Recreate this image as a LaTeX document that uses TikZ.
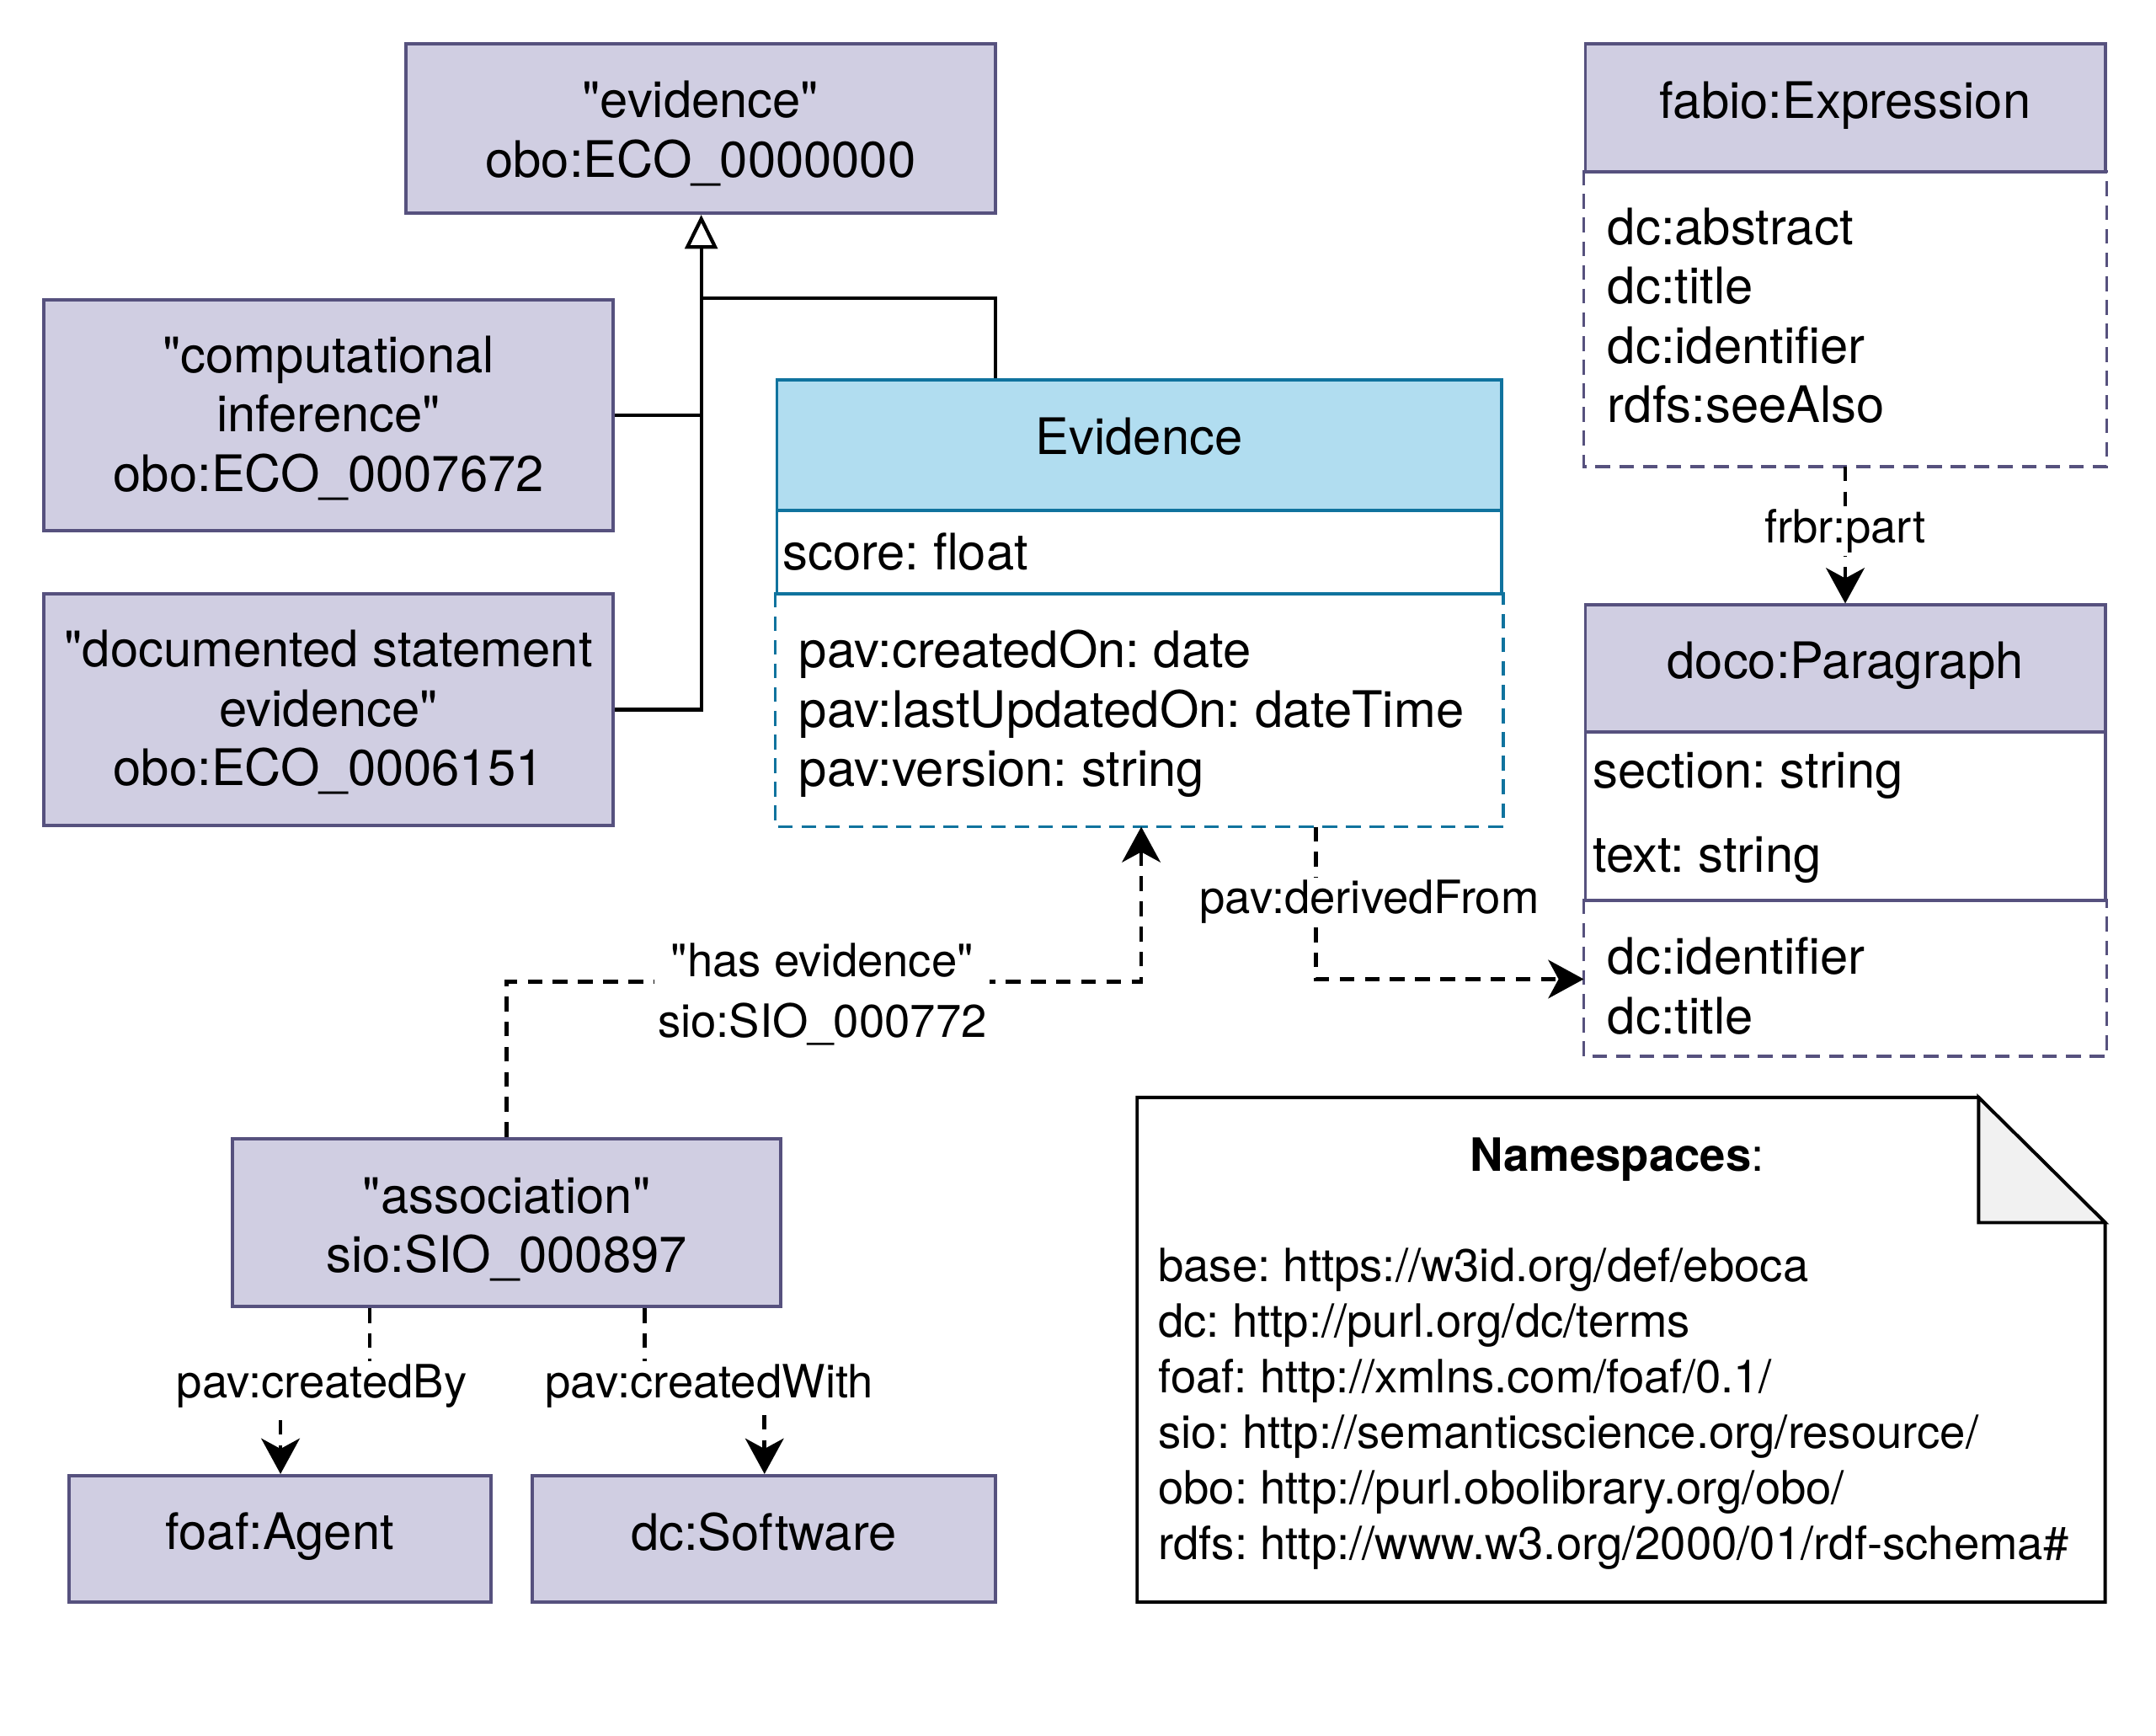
\documentclass[tikz,border=0pt]{standalone}
\usepackage{fontspec}
\setmainfont{TeX Gyre Heros}[Ligatures=TeXOff]
\usetikzlibrary{arrows.meta}
\definecolor{pfill}{HTML}{D0CEE2}
\definecolor{pstroke}{HTML}{56517E}
\definecolor{bfill}{HTML}{B1DDF0}
\definecolor{bstroke}{HTML}{10739E}
\definecolor{foldgray}{HTML}{F1F1F1}
\newcommand{\mainsz}{\fontsize{17}{20}\selectfont}
\newcommand{\smallsz}{\fontsize{15.5}{18.8}\selectfont}
\frenchspacing
\def\u{0.016327cm}
\tikzset{
  box/.style={draw=pstroke, fill=pfill, line width=1.1pt, inner sep=0pt},
  sect/.style={inner sep=0pt, line width=1.1pt},
  txt/.style={inner sep=0pt, align=center, font=\mainsz},
  bodytext/.style={anchor=west, align=left, inner sep=0pt, font=\mainsz},
  boxdash/.style={line width=1.1pt, dash pattern=on 5pt off 3pt},
  dep/.style={line width=1.3pt, dash pattern=on 5pt off 3.5pt, -{Stealth[length=12pt, width=13pt, inset=3.5pt]}},
  lbl/.style={fill=white, inner sep=1pt, align=center, font=\smallsz},
  gen/.style={line width=1.2pt},
}
\begin{document}
\begin{tikzpicture}[x=\u, y=-\u]
\useasboundingbox (0,0) rectangle (1568,1262);

% ECO classes
\node[box, minimum width=429*\u, minimum height=123*\u] (ev) at (509.5,93.5) {};
\node[txt] (evt) at ([yshift=-3.5*\u]ev.center) {"evidence"\\obo:ECO\_0000000};
\node[box, minimum width=414*\u, minimum height=168*\u] (comp) at (239,302) {};
\node[txt] (compt) at ([yshift=-2*\u]comp.center) {"computational\\inference"\\obo:ECO\_0007672};
\node[box, minimum width=414*\u, minimum height=168*\u] (doc) at (239,516) {};
\node[txt] (doct) at ([yshift=-2*\u]doc.center) {"documented statement\\evidence"\\obo:ECO\_0006151};

% Evidence class
\node[sect, draw=bstroke, fill=bfill, minimum width=527*\u, minimum height=95*\u] (evhead) at (828.5,323.5) {};
\node[txt] (evheadt) at ([yshift=6*\u]evhead.center) {Evidence};
\node[sect, minimum width=527*\u, minimum height=168*\u] (evbody) at (828.5,516) {};
\draw[boxdash, draw=bstroke] (evbody.north west) -- (evbody.south west) -- (evbody.south east) -- (evbody.north east);
\node[sect, draw=bstroke, fill=white, minimum width=527*\u, minimum height=61*\u] (evattr) at (828.5,401.5) {};
\node[bodytext] (evscore) at ([xshift=5*\u]evattr.west) {score: float};
\node[bodytext] (evprops) at ([xshift=17*\u, yshift=-3*\u]evbody.west) {pav:createdOn: date\\pav:lastUpdatedOn: dateTime\\pav:version: string};

% fabio:Expression
\node[sect, minimum width=378*\u, minimum height=213*\u] (fabody) at (1342,231.5) {};
\draw[boxdash, draw=pstroke] (fabody.north west) -- (fabody.south west) -- (fabody.south east) -- (fabody.north east);
\node[sect, draw=pstroke, fill=pfill, minimum width=378*\u, minimum height=93*\u] (fahead) at (1342,78.5) {};
\node[txt] (faheadt) at ([yshift=2*\u]fahead.center) {fabio:Expression};
\node[bodytext] (faprops) at ([xshift=17*\u, yshift=2*\u]fabody.west) {dc:abstract\\dc:title\\dc:identifier\\rdfs:seeAlso};

% doco:Paragraph
\node[sect, minimum width=378*\u, minimum height=112*\u] (dobody) at (1342,711) {};
\draw[boxdash, draw=pstroke] (dobody.north west) -- (dobody.south west) -- (dobody.south east) -- (dobody.north east);
\node[sect, draw=pstroke, fill=pfill, minimum width=378*\u, minimum height=92*\u] (dohead) at (1342,486) {};
\node[txt] (doheadt) at ([yshift=2*\u]dohead.center) {doco:Paragraph};
\node[sect, draw=pstroke, fill=white, minimum width=378*\u, minimum height=123*\u] (doattr) at (1342,593.5) {};
\node[bodytext] (dosec) at (1158,564) {section: string};
\node[bodytext] (dotext) at (1158,625) {text: string};
\node[bodytext] (doprops) at ([xshift=17*\u, yshift=-6*\u]dobody.west) {dc:identifier\\dc:title};

% association and targets
\node[box, minimum width=399*\u, minimum height=122*\u] (assoc) at (368.5,889) {};
\node[txt] (assoct) at ([yshift=-5*\u]assoc.center) {"association"\\sio:SIO\_000897};
\node[box, minimum width=307*\u, minimum height=92*\u] (agent) at (203.5,1119) {};
\node[txt] (agentt) at ([yshift=2*\u]agent.center) {foaf:Agent};
\node[box, minimum width=337*\u, minimum height=92*\u] (soft) at (555.5,1119) {};
\node[txt] (softt) at ([yshift=5*\u]soft.center) {dc:Software};

% generalization
\coordinate (j) at (510,217);
\coordinate (k) at (724,217);
\draw[gen] (comp.east) -- (comp.east -| j);
\draw[gen] (evhead.north -| k) -- (k) -- (j);
\draw[gen, -{Triangle[open, length=11.5pt, width=11pt, fill=white]}] (doc.east) -- (doc.east -| j) -- (j |- ev.south);

% has evidence
\coordinate (he) at (830,714);
\draw[dep] (assoc.north) |- (he) -- (he |- evbody.south);
\node[lbl, font=\fontsize{15.5}{20.4}\selectfont] (helbl) at (598,723) {"has evidence"\\sio:SIO\_000772};

% derivedFrom
\coordinate (df) at (957,712);
\draw[dep] (evbody.south -| df) -- (df) -- (dobody.west |- df);
\node[lbl] (dflbl) at (996,656) {pav:derivedFrom};

% frbr:part
\draw[dep] (fabody.south) -- (dohead.north);
\node[lbl] (frlbl) at (1342,386) {frbr:part};

% createdBy / createdWith
\coordinate (cb1) at (269,1008);
\coordinate (cb2) at (204,1008);
\draw[dep] (assoc.south -| cb1) -- (cb1) -- (cb2) -- (cb2 |- agent.north);
\node[lbl] (cblbl) at (234,1008) {pav:createdBy};
\coordinate (cw1) at (469,1008);
\coordinate (cw2) at (556,1008);
\draw[dep] (assoc.south -| cw1) -- (cw1) -- (cw2) -- (cw2 |- soft.north);
\node[lbl] (cwlbl) at (516,1008) {pav:createdWith};

% namespaces note
\draw[line width=1.1pt, fill=white] (827,798) -- (1439,798) -- (1531,889) -- (1531,1165) -- (827,1165) -- cycle;
\draw[line width=1.1pt, fill=foldgray, line join=miter] (1439,798) -- (1439,889) -- (1531,889) -- cycle;
\node[inner sep=0pt, font=\smallsz] (nstitle) at (1176,843) {\textbf{Namespaces}:};
\node[anchor=west, align=left, inner sep=0pt, font=\smallsz] (nslist) at (842,1024.5) {base: https://w3id.org/def/eboca\\dc: http://purl.org/dc/terms\\foaf: http://xmlns.com/foaf/0.1/\\sio: http://semanticscience.org/resource/\\obo: http://purl.obolibrary.org/obo/\\rdfs: http://www.w3.org/2000/01/rdf-schema\#};
\end{tikzpicture}
\end{document}
